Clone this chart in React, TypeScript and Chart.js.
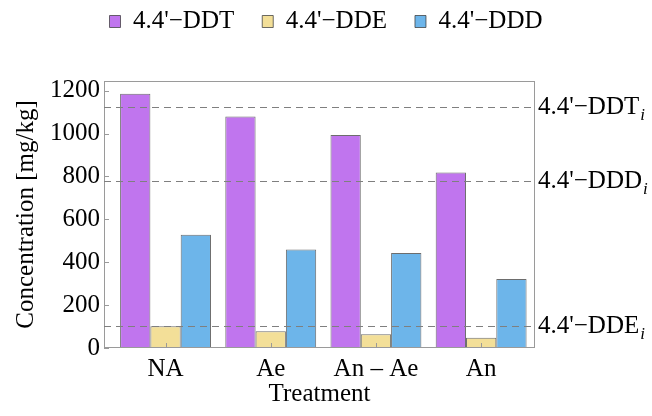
import React, { useEffect, useRef } from 'react';
import { Chart, registerables } from 'chart.js';
Chart.register(...registerables);

const treatments = ['NA', 'Ae', 'An – Ae', 'An'];
const seriesNames = ["4.4'−DDT", "4.4'−DDE", "4.4'−DDD"];
const ddt = [1185, 1079, 993, 818];
const dde = [101, 78, 64, 48];
const ddd = [528, 459, 443, 322];
const seriesColors = ['#C075EE', '#F3DF98', '#6DB5EA'];
const refValues = [1120, 775, 101];
const refLabels = ["4.4'−DDT", "4.4'−DDD", "4.4'−DDE"];
const refSub = 'i';
const yMax = 1245;
const yStep = 200;

const FONT = "'Liberation Serif', 'Times New Roman', serif";

const decorPlugin = {
  id: 'decor',
  beforeInit(chart: any) {
    const lg = chart.legend;
    if (lg) {
      const fit = lg.fit;
      lg.fit = function () {
        fit.call(this);
        this.height = 100;
      };
    }
  },
  afterDatasetsDraw(chart: any) {
    const { ctx, chartArea: a, scales } = chart;
    ctx.save();
    ctx.strokeStyle = '#9a9a9a';
    ctx.lineWidth = 1;
    ctx.strokeRect(a.left + 0.5, a.top + 0.5, a.right - a.left - 1, a.bottom - a.top - 1);
    ctx.beginPath();
    const y = scales.y;
    y.ticks.forEach((t: any) => {
      const py = Math.round(y.getPixelForValue(t.value)) + 0.5;
      ctx.moveTo(a.left, py);
      ctx.lineTo(a.left + 5, py);
    });
    const x = scales.x;
    x.ticks.forEach((t: any) => {
      const px = Math.round(x.getPixelForValue(t.value)) + 0.5;
      ctx.moveTo(px, a.bottom);
      ctx.lineTo(px, a.bottom - 5);
    });
    ctx.stroke();
    ctx.restore();
  },
  afterDraw(chart: any) {
    const { ctx, scales } = chart;
    const y2 = scales.y2;
    ctx.save();
    y2.ticks.forEach((t: any, i: number) => {
      ctx.font = `25px ${FONT}`;
      const w = ctx.measureText(refLabels[i]).width;
      const py = y2.getPixelForValue(t.value);
      ctx.font = `italic 17px ${FONT}`;
      ctx.fillStyle = '#000';
      ctx.textBaseline = 'middle';
      ctx.textAlign = 'left';
      ctx.fillText(refSub, y2.left + 3 + w + 1, py + 8);
    });
    ctx.restore();
  },
};

export default function App() {
  const ref = useRef<HTMLCanvasElement>(null);
  useEffect(() => {
    if (!ref.current) return;
    Chart.defaults.font.family = FONT;
    Chart.defaults.color = '#000';
    const mk = (arr: number[]) => arr.map((v, i) => ({ x: i, y: v }));
    const chart = new Chart(ref.current, {
      type: 'bar',
      data: {
        datasets: [ddt, dde, ddd].map((arr, k) => ({
          label: seriesNames[k],
          data: mk(arr),
          backgroundColor: seriesColors[k],
          borderColor: 'rgba(60,60,60,0.75)',
          borderWidth: 1,
          categoryPercentage: 0.864,
          barPercentage: 1,
        })),
      },
      options: {
        responsive: false,
        animation: false,
        layout: { padding: { top: -19, left: 0, right: 0, bottom: 0 } },
        plugins: {
          legend: {
            position: 'top',
            labels: {
              boxWidth: 11,
              boxHeight: 12,
              padding: 28,
              color: '#000',
              font: { size: 25, family: FONT },
            },
          },
          tooltip: { enabled: false },
        },
        scales: {
          x: {
            type: 'linear',
            offset: false,
            min: -0.585,
            max: 3.512,
            afterBuildTicks: (s: any) => {
              s.ticks = treatments.map((_, i) => ({ value: i }));
            },
            afterFit: (s: any) => {
              s.height = 68;
            },
            grid: { display: false, drawTicks: false, offset: false },
            border: { display: false },
            ticks: {
              padding: 6,
              font: { size: 25, family: FONT },
              color: '#000',
              callback: (v: any) => treatments[v] ?? '',
            },
            title: {
              display: true,
              text: 'Treatment',
              font: { size: 25, family: FONT },
              color: '#000',
              padding: { top: 0, bottom: 7 },
            },
          },
          y: {
            position: 'left',
            min: 0,
            max: yMax,
            afterBuildTicks: (s: any) => {
              const t = [];
              for (let v = 0; v <= yMax; v += yStep) t.push({ value: v });
              s.ticks = t;
            },
            afterFit: (s: any) => {
              s.width = 104;
            },
            grid: { display: false, drawTicks: false },
            border: { display: false },
            ticks: {
              padding: 4,
              font: { size: 25, family: FONT },
              color: '#000',
              callback: (v: any) => String(v),
            },
            title: {
              display: true,
              text: 'Concentration [mg/kg]',
              font: { size: 25, family: FONT },
              color: '#000',
              padding: { top: 11, bottom: 0 },
            },
          },
          y2: {
            position: 'right',
            z: 1,
            min: 0,
            max: yMax,
            afterBuildTicks: (s: any) => {
              s.ticks = refValues.map((v) => ({ value: v }));
            },
            afterFit: (s: any) => {
              s.width = 117;
            },
            grid: {
              z: 1,
              drawOnChartArea: true,
              drawTicks: false,
              color: '#7f7f7f',
              lineWidth: 1,
            },
            border: { display: false, dash: [7, 5] },
            ticks: {
              padding: 3,
              font: { size: 25, family: FONT },
              color: '#000',
              callback: (_v: any, i: number) => refLabels[i],
            },
          },
        },
      } as any,
      plugins: [decorPlugin],
    });
    return () => chart.destroy();
  }, []);
  return (
    <div style={{ position: 'absolute', left: 0, top: 0, width: 652, height: 416 }}>
      <canvas ref={ref} width={652} height={416} style={{ width: 652, height: 416 }} />
    </div>
  );
}
